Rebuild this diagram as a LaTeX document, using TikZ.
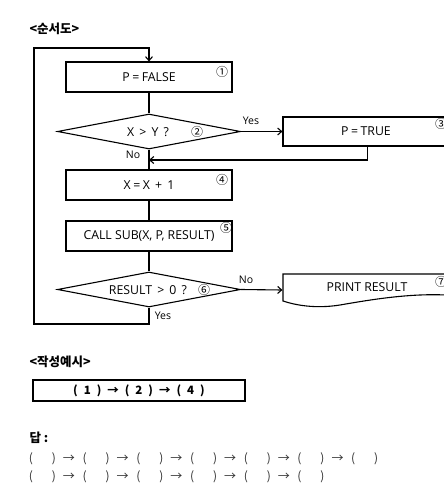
\documentclass[tikz,border=0pt]{standalone}
\usepackage{fontspec}
\setmainfont{Open Sans}
\newfontfamily\kr{Noto Sans CJK KR}
\usetikzlibrary{shapes.geometric,arrows.meta}
\newcommand{\gp}{\hspace{6pt}}
\newcommand{\eq}{\hspace{2.5pt}=\hspace{2.5pt}}
\begin{document}
\begin{tikzpicture}[x=1pt,y=-1pt,line width=1.1pt,
  box/.style={draw,minimum width=166pt,minimum height=30pt,inner sep=0pt,font=\fontsize{12.3}{14}\selectfont},
  dia/.style={draw,diamond,minimum width=183pt,minimum height=35pt,inner sep=0pt},
  txt/.style={inner sep=0pt,font=\fontsize{12.3}{14}\selectfont},
  arr/.style={-{Straight Barb[length=4pt,width=7pt]}},
  num/.style={inner sep=0pt,font=\kr\fontsize{12}{12}\selectfont},
  lab/.style={inner sep=0pt,font=\fontsize{10.5}{12}\selectfont},
  ttl/.style={inner sep=0pt,anchor=west,font=\kr\bfseries\fontsize{12.5}{14}\selectfont},
  ans/.style={inner sep=0pt,text=black!80,font=\kr\fontsize{12}{13}\selectfont}]
\clip (0,0) rectangle (444,499);
\fill[white] (0,0) rectangle (444,499);
% titles
\node[ttl] (t1) at (29,29) {<순서도>};
\node[ttl] (t2) at (29,362) {<작성예시>};
\node[ttl] (t3) at (29,438) {답 :};
% flowchart
\node[box] (b1) at (149,77) {P\eq FALSE};
\node[num] (n1) at (222,72) {①};
\node[dia] (d2) at (149,131.5) {};
\node[txt] (x2) at (148,132) {X\hspace{2pt} >\hspace{2pt} Y\hspace{2pt} ?};
\node[num] (n2) at (197,132) {②};
\node[box,minimum width=169pt,minimum height=29pt] (b3) at (367.5,131.5) {};
\node[txt] (x3) at (366,131) {P\eq TRUE};
\node[num] (n3) at (441,124) {③};
\node[box] (b4) at (149,185) {X\eq X\hspace{2pt} +\hspace{2pt} 1};
\node[num] (n4) at (222,180) {④};
\node[box] (b5) at (149,236) {CALL SUB(X, P, RESULT)};
\node[num] (n5) at (226,228) {⑤};
\node[dia] (d6) at (149,289.5) {};
\node[txt] (x6) at (148,290) {RESULT\hspace{2pt} >\hspace{2pt} 0\hspace{2pt} ?};
\node[num] (n6) at (204,290) {⑥};
\node[inner sep=0pt,minimum width=174pt,minimum height=32pt] (b7) at (370,290) {};
\draw (283,274) -- (460,274) -- (460,296)
  .. controls (420,292) and (380,298) .. (340,305)
  .. controls (315,309) and (295,305) .. (283,301) -- cycle;
\node[txt] (x7) at (367,287) {PRINT RESULT};
\node[num] (n7) at (441,282) {⑦};
% connectors
\draw (b1.south) -- (d2.north);
\draw[arr] (d2.east) -- (b3.west);
\node[lab] (y2) at (251,121) {Yes};
\coordinate (m1) at (149,160);
\draw[arr] (b3.south) |- (m1);
\draw (d2.south) -- (b4.north);
\node[lab] (no2) at (133,155) {No};
\draw (b4.south) -- (b5.north);
\draw (b5.south) -- (d6.north);
\draw[arr] (d6.east) -- (b7.west);
\node[lab] (no6) at (246,280) {No};
\coordinate (lb) at (34,324);
\coordinate (lt) at (34,48);
\draw[arr] (d6.south) |- (lb) -- (lt) -| (b1.north);
\node[lab] (y6) at (163,316) {Yes};
% example
\node[draw,line width=1.3pt,minimum width=212pt,minimum height=21pt,inner sep=0pt,
  font=\kr\bfseries\fontsize{11.5}{12}\selectfont] (ex) at (139,390.5)
  {(\gp1\gp)\gp→\gp(\gp2\gp)\gp→\gp(\gp4\gp)};
% answer rows
\foreach \i in {0,...,6} {
  \node[ans] (pa\i) at (31+53.7*\i,459) {(};
  \node[ans] (pb\i) at (54+53.7*\i,459) {)};
}
\foreach \i in {0,...,5} {
  \node[ans] (aa\i) at (69+53.7*\i,459) {→};
  \node[ans] (qa\i) at (31+53.7*\i,477) {(};
  \node[ans] (qb\i) at (54+53.7*\i,477) {)};
}
\foreach \i in {0,...,4} {
  \node[ans] (ab\i) at (69+53.7*\i,477) {→};
}
\end{tikzpicture}
\end{document}
